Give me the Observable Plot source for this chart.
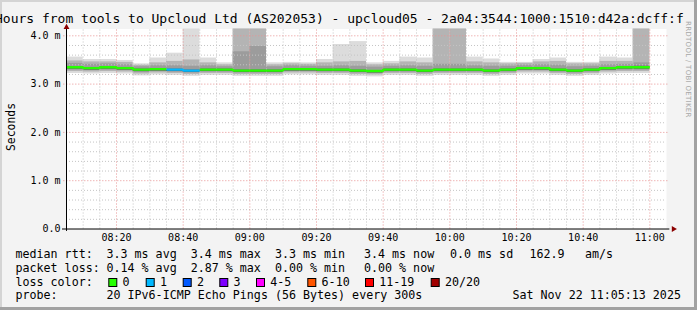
<!DOCTYPE html>
<html><head><meta charset="utf-8">
<script src="https://cdn.jsdelivr.net/npm/d3@7"></script>
<script src="https://cdn.jsdelivr.net/npm/@observablehq/plot@0.6"></script>
<style>
html,body{margin:0;padding:0;background:#f3f3f3;overflow:hidden;}
#chart svg{display:block;}
</style></head><body><div id="chart"></div>
<script>
// time in minutes after 08:00; each bar is one 5-minute step
const barStart = [5,10,15,20,25,30,35,40,45,50,55,60,65,70,75,80,85,90,95,100,105,110,115,120,125,130,135,140,145,150,155,160,165,170,175];
const stepMin = 5;
// median rtt (ms)
const medv = [3.35,3.33,3.35,3.33,3.30,3.31,3.30,3.28,3.30,3.30,3.28,3.28,3.28,3.31,3.31,3.30,3.30,3.28,3.27,3.30,3.30,3.28,3.30,3.30,3.30,3.28,3.30,3.33,3.33,3.30,3.28,3.30,3.33,3.35,3.35];
// smoke: ping distribution per step (ms)
const maxv = [3.56,3.51,3.51,3.49,3.42,3.54,3.64,4.30,3.54,3.44,4.30,4.30,3.44,3.45,3.44,3.51,3.82,3.88,3.44,3.47,3.56,3.54,4.30,4.30,3.56,3.52,3.45,3.45,3.51,3.54,3.45,3.45,3.56,3.54,4.30];
const p90v = [3.48,3.46,3.46,3.45,3.39,3.44,3.47,3.50,3.44,3.40,4.30,4.30,3.40,3.42,3.41,3.44,3.46,3.47,3.40,3.42,3.46,3.44,4.30,4.30,3.46,3.44,3.42,3.43,3.46,3.47,3.42,3.42,3.47,3.47,4.30];
const p75v = [3.43,3.41,3.42,3.40,3.36,3.38,3.38,3.37,3.38,3.36,3.67,3.78,3.36,3.38,3.37,3.37,3.38,3.37,3.35,3.37,3.38,3.37,3.41,3.41,3.38,3.37,3.37,3.39,3.40,3.39,3.36,3.37,3.40,3.41,3.44];
const p60v = [3.36,3.34,3.36,3.34,3.31,3.32,3.31,3.29,3.31,3.31,3.29,3.29,3.29,3.32,3.32,3.31,3.31,3.29,3.28,3.31,3.31,3.29,3.31,3.31,3.31,3.29,3.31,3.34,3.34,3.31,3.29,3.31,3.34,3.36,3.37];
const p40v = [3.31,3.29,3.31,3.29,3.26,3.27,3.26,3.24,3.26,3.26,3.24,3.24,3.24,3.27,3.27,3.26,3.26,3.24,3.23,3.26,3.26,3.24,3.26,3.26,3.26,3.24,3.26,3.29,3.29,3.26,3.24,3.26,3.29,3.31,3.31];
const p25v = [3.29,3.28,3.29,3.28,3.24,3.26,3.25,3.23,3.25,3.25,3.23,3.23,3.23,3.26,3.26,3.25,3.25,3.23,3.22,3.25,3.25,3.23,3.25,3.25,3.25,3.23,3.25,3.28,3.28,3.25,3.23,3.25,3.28,3.29,3.29];
const p10v = [3.26,3.25,3.26,3.25,3.21,3.23,3.22,3.20,3.22,3.22,3.20,3.20,3.20,3.23,3.23,3.22,3.22,3.20,3.19,3.22,3.22,3.20,3.22,3.22,3.22,3.20,3.22,3.25,3.25,3.22,3.20,3.22,3.25,3.26,3.26];
const minv = [3.22,3.21,3.22,3.21,3.17,3.19,3.18,3.16,3.18,3.18,3.16,3.16,3.16,3.19,3.19,3.18,3.18,3.16,3.15,3.18,3.18,3.16,3.18,3.18,3.18,3.16,3.18,3.21,3.21,3.18,3.16,3.18,3.21,3.22,3.22];
// lost pings per step (index into loss classes)
const lossClass = [0,0,0,0,0,0,1,1,0,0,0,0,0,0,0,0,0,0,0,0,0,0,0,0,0,0,0,0,0,0,0,0,0,0,0];
const lossColors = ["#26ff00","#00b8ff","#0059ff","#7e00ff","#ff00ff","#ff5500","#ff0000","#a10000"];
const lossLabels = ["0","1","2","3","4-5","6-10","11-19","20/20"];
const xTickPos = [20,40,60,80,100,120,140,160,180];
const xTickLabels = ["08:20","08:40","09:00","09:20","09:40","10:00","10:20","10:40","11:00"];
const yTickPos = [0,1,2,3,4];
const yTickLabels = ["0.0","1.0 m","2.0 m","3.0 m","4.0 m"];
const titleText = "Hours from tools to Upcloud Ltd (AS202053) - upcloud05 - 2a04:3544:1000:1510:d42a:dcff:f";
const legendRows = [
  [["median rtt:",15.5],["3.3 ms avg  3.4 ms max  3.3 ms min",106.5],["3.4 ms now",364],["0.0 ms sd",450],["162.9",529.5],["am/s",585]],
  [["packet loss:",15.5],["0.14 % avg  2.87 % max  0.00 % min",106.5],["0.00 % now",364]],
  [["loss color:",15.5]],
  [["probe:",15.5],["20 IPv6-ICMP Echo Pings (56 Bytes) every 300s",106.5],["Sat Nov 22 11:05:13 2025",512.5]]
];

const W = 697, H = 310;
const bars = barStart.map((t, i) => ({
  t1: t, t2: t + stepMin, mn: minv[i], p10: p10v[i], p25: p25v[i], p40: p40v[i], md: medv[i],
  p60: p60v[i], p75: p75v[i], p90: p90v[i], mx: maxv[i], c: lossColors[lossClass[i]]
}));
const medPts = [];
let run = 0;
bars.forEach((b, i) => {
  if (i > 0 && lossClass[i] !== lossClass[i - 1]) run++;
  medPts.push({t: b.t1, v: b.md, z: run, c: b.c}, {t: b.t2, v: b.md, z: run, c: b.c});
});
const yMinor = d3.range(1, 21).map(k => k * 0.2).filter(v => Math.abs(v - Math.round(v)) > 1e-6);
const xMinor = d3.range(10, 185, 5).filter(v => v % 20 !== 0);

const gridMinor = "#c4c4c4", gridMajor = "#e79292";
const plot = Plot.plot({
  width: W, height: H,
  marginLeft: 66, marginRight: 31, marginTop: 28.5, marginBottom: 81.5,
  x: {domain: [5, 185], axis: null},
  y: {domain: [0, 4.141], axis: null},
  style: {background: "#f3f3f3", fontFamily: "'DejaVu Sans Mono', monospace", color: "#000", overflow: "hidden"},
  marks: [
    Plot.frame({fill: "white", stroke: null}),
    Plot.rect(bars, {x1: "t1", x2: "t2", y1: "mn", y2: "mx", fill: "#dcdcdc", clip: true}),
    Plot.rect(bars, {x1: "t1", x2: "t2", y1: "p10", y2: "p90", fill: "#b4b4b4", clip: true}),
    Plot.rect(bars, {x1: "t1", x2: "t2", y1: "p25", y2: "p75", fill: "#9c9c9c", clip: true}),
    Plot.rect(bars, {x1: "t1", x2: "t2", y1: "p40", y2: "p60", fill: "#5a5a5a", clip: true}),
    Plot.ruleY(yMinor, {x1: 5, x2: 185, stroke: gridMinor, strokeDasharray: "1,2"}),
    Plot.ruleX(xMinor, {y1: 0, y2: 4.141, stroke: gridMinor, strokeDasharray: "1,2"}),
    Plot.ruleY(yTickPos.slice(1), {x1: 4.2, x2: 185.6, stroke: gridMajor, strokeDasharray: "1,2"}),
    Plot.ruleX(xTickPos, {y1: 0, y2: 4.141, stroke: gridMajor, strokeDasharray: "1,2"}),
    Plot.line(medPts, {x: "t", y: "v", z: "z", stroke: "c", strokeWidth: 2.4, strokeLinecap: "butt", strokeLinejoin: "miter", curve: "linear"}),
    Plot.ruleY([0], {x1: 3.8, x2: 186, stroke: "#000", strokeWidth: 1}),
    Plot.ruleX([5], {y1: -0.05, y2: 4.19, stroke: "#000", strokeWidth: 1}),
    Plot.dot([{x: 5, y: 4.178}], {x: "x", y: "y", symbol: "triangle", r: 2.2, fill: "#8b0000", stroke: null}),
    Plot.dot([{x: 187.1, y: 0}], {x: "x", y: "y", symbol: "triangle", r: 2.2, rotate: 90, fill: "#8b0000", stroke: null}),
    Plot.text(xTickPos, {x: d => d, y: 0, text: (d, i) => xTickLabels[i], lineAnchor: "bottom", dy: 12.3, fontSize: 10, fill: "#000"}),
    Plot.text(yTickPos, {x: 5, y: d => d, text: (d, i) => yTickLabels[i], textAnchor: "end", lineAnchor: "middle", dx: -6, fontSize: 10, fill: "#000"})
  ]
});
document.getElementById("chart").appendChild(plot);

const svg = d3.select(plot);
const mono = "'DejaVu Sans Mono', monospace";
const addText = (x, y, s, size) => svg.append("text").attr("x", x).attr("y", y)
  .attr("font-family", mono).attr("font-size", size).attr("fill", "#000")
  .attr("text-anchor", "start").style("white-space", "pre").text(s);
// frame border
svg.append("rect").attr("x", 0).attr("y", 0).attr("width", W).attr("height", 2).attr("fill", "#d4d4d4");
svg.append("rect").attr("x", 0).attr("y", 0).attr("width", 2).attr("height", H).attr("fill", "#d4d4d4");
svg.append("rect").attr("x", W - 3).attr("y", 0).attr("width", 3).attr("height", H).attr("fill", "#a2a2a2");
svg.append("rect").attr("x", 0).attr("y", H - 3).attr("width", W).attr("height", 3).attr("fill", "#a2a2a2");
// title
addText(-5, 22.6, titleText, 13);
// y label
svg.append("text").attr("transform", "translate(14.5,127) rotate(-90)").attr("text-anchor", "middle")
  .attr("font-family", mono).attr("font-size", 11.4).attr("fill", "#000").text("Seconds");
// watermark
svg.append("text").attr("transform", "translate(686,21) rotate(90)").attr("text-anchor", "start")
  .attr("font-family", "'DejaVu Sans', sans-serif").attr("font-size", 7).attr("fill", "#a6a6a6")
  .attr("letter-spacing", 0.3).text("RRDTOOL / TOBI OETIKER");
// legend
const baselines = [258.3, 271.9, 285.6, 299.3];
legendRows.forEach((row, r) => row.forEach(([s, x]) => addText(x, baselines[r], s, 11.66)));
const boxX = [108.3, 145.7, 182.7, 219.3, 256, 307.3, 365, 430.7];
lossLabels.forEach((lab, i) => {
  svg.append("rect").attr("x", boxX[i] + 0.5).attr("y", 278.5).attr("width", 8).attr("height", 8)
    .attr("fill", lossColors[i]).attr("stroke", "#000").attr("stroke-width", 1);
  addText(boxX[i] + 14.3, baselines[2], lab, 11.66);
});
</script></body></html>
